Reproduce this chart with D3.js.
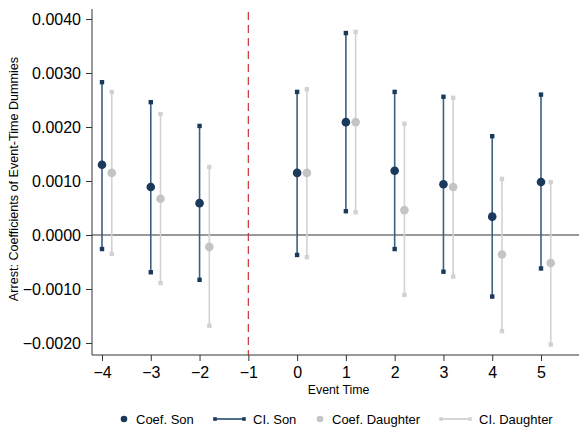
<!DOCTYPE html>
<html><head><meta charset="utf-8">
<script src="https://cdn.jsdelivr.net/npm/d3@7"></script>
<style>html,body{margin:0;padding:0;background:#fff;}svg{display:block;font-family:Arial,"Liberation Sans",sans-serif;}</style>
</head><body>
<svg id="c" width="579" height="430"></svg>
<script>
const eventTimes = [-4, -3, -2, 0, 1, 2, 3, 4, 5];
const sonCoef   = [0.00130, 0.00089, 0.00059, 0.00115, 0.00209, 0.00119, 0.00094, 0.00034, 0.00098];
const sonLo     = [-0.00026, -0.00069, -0.00083, -0.00037, 0.00044, -0.00026, -0.00068, -0.00114, -0.00062];
const sonHi     = [0.00283, 0.00246, 0.00202, 0.00265, 0.00374, 0.00265, 0.00256, 0.00183, 0.00260];
const dauCoef   = [0.00115, 0.00067, -0.00022, 0.00115, 0.00209, 0.00046, 0.00089, -0.00036, -0.00052];
const dauLo     = [-0.00035, -0.00089, -0.00168, -0.00041, 0.00042, -0.00111, -0.00077, -0.00178, -0.00203];
const dauHi     = [0.00265, 0.00224, 0.00126, 0.00270, 0.00376, 0.00206, 0.00254, 0.00104, 0.00098];
const xTicks = [-4, -3, -2, -1, 0, 1, 2, 3, 4, 5];
const yTicks = [-0.0020, -0.0010, 0.0000, 0.0010, 0.0020, 0.0030, 0.0040];
const legendLabels = ["Coef. Son", "CI. Son", "Coef. Daughter", "CI. Daughter"];

const svg = d3.select("#c");
const x = d3.scaleLinear().domain([-4, 5]).range([102, 541]);
const y = d3.scaleLinear().domain([-0.0020, 0.0040]).range([343, 19]);
const pTop = 9, pBottom = 355, pLeft = 92, pRight = 579;
const navy = "#1a3a5c", navyLine = "#3d5f80", gray = "#c4c4c4", grayLine = "#d2d2d2";
const dOff = 0.2;

// Y axis
const ya = svg.append("g").attr("transform", `translate(${pLeft},0)`)
  .call(d3.axisLeft(y).tickValues(yTicks).tickSize(6).tickSizeOuter(0).tickFormat(d3.format(".4f")));
ya.select(".domain").remove();
ya.selectAll("line").attr("stroke", "#333");
ya.selectAll("text").attr("font-size", 16).attr("fill", "#000").attr("font-family", "Arial, Liberation Sans, sans-serif").attr("dx", -2);
svg.append("line").attr("x1", pLeft).attr("x2", pLeft).attr("y1", pTop).attr("y2", pBottom).attr("stroke", "#333");

// X axis
const xa = svg.append("g").attr("transform", `translate(0,${pBottom})`)
  .call(d3.axisBottom(x).tickValues(xTicks).tickSize(6).tickSizeOuter(0).tickFormat(d3.format("d")));
xa.select(".domain").remove();
xa.selectAll("line").attr("stroke", "#333");
xa.selectAll("text").attr("font-size", 16).attr("fill", "#000").attr("font-family", "Arial, Liberation Sans, sans-serif").attr("dy", "0.9em");
svg.append("line").attr("x1", pLeft).attr("x2", pRight).attr("y1", pBottom).attr("y2", pBottom).attr("stroke", "#333");

// zero line
svg.append("line").attr("x1", pLeft).attr("x2", pRight).attr("y1", y(0)).attr("y2", y(0)).attr("stroke", "#333").attr("stroke-width", 1);

// red dashed
svg.append("line").attr("x1", x(-1)).attr("x2", x(-1)).attr("y1", 12).attr("y2", pBottom)
  .attr("stroke", "#c8323c").attr("stroke-width", 1.2).attr("stroke-dasharray", "8,5");

// titles
svg.append("text").attr("x", x(0.85)).attr("y", 394).attr("text-anchor", "middle").attr("font-size", 12.3).text("Event Time");
svg.append("text").attr("transform", `translate(18,${(pTop + pBottom) / 2 - 3}) rotate(-90)`).attr("text-anchor", "middle").attr("font-size", 12.6).text("Arrest: Coefficients of Event-Time Dummies");

// series
function drawSeries(off, lo, hi, coef, lineCol, capCol, dotCol) {
  const g = svg.append("g");
  eventTimes.forEach((t, i) => {
    const cx = x(t + off);
    g.append("line").attr("x1", cx).attr("x2", cx).attr("y1", y(lo[i])).attr("y2", y(hi[i])).attr("stroke", lineCol).attr("stroke-width", 1.6);
    [lo[i], hi[i]].forEach(v => g.append("rect").attr("x", cx - 2.2).attr("y", y(v) - 2.2).attr("width", 4.4).attr("height", 4.4).attr("fill", capCol));
    g.append("circle").attr("cx", cx).attr("cy", y(coef[i])).attr("r", 4.3).attr("fill", dotCol);
  });
}
drawSeries(dOff, dauLo, dauHi, dauCoef, grayLine, grayLine, gray);
drawSeries(0, sonLo, sonHi, sonCoef, navyLine, navy, navy);

// legend
const ly = 419;
const lg = svg.append("g").attr("font-size", 13);
lg.append("circle").attr("cx", 124).attr("cy", ly).attr("r", 3.3).attr("fill", navy);
lg.append("text").attr("x", 136).attr("y", ly + 5).text(legendLabels[0]);
lg.append("line").attr("x1", 215).attr("x2", 244).attr("y1", ly).attr("y2", ly).attr("stroke", navyLine).attr("stroke-width", 1.8);
[215, 244].forEach(v => lg.append("rect").attr("x", v - 1.8).attr("y", ly - 1.8).attr("width", 3.6).attr("height", 3.6).attr("fill", navy));
lg.append("text").attr("x", 253).attr("y", ly + 5).text(legendLabels[1]);
lg.append("circle").attr("cx", 320).attr("cy", ly).attr("r", 3.3).attr("fill", gray);
lg.append("text").attr("x", 332).attr("y", ly + 5).text(legendLabels[2]);
lg.append("line").attr("x1", 441).attr("x2", 470).attr("y1", ly).attr("y2", ly).attr("stroke", grayLine).attr("stroke-width", 1.8);
[441, 470].forEach(v => lg.append("rect").attr("x", v - 1.8).attr("y", ly - 1.8).attr("width", 3.6).attr("height", 3.6).attr("fill", grayLine));
lg.append("text").attr("x", 479).attr("y", ly + 5).text(legendLabels[3]);
</script>
</body></html>
